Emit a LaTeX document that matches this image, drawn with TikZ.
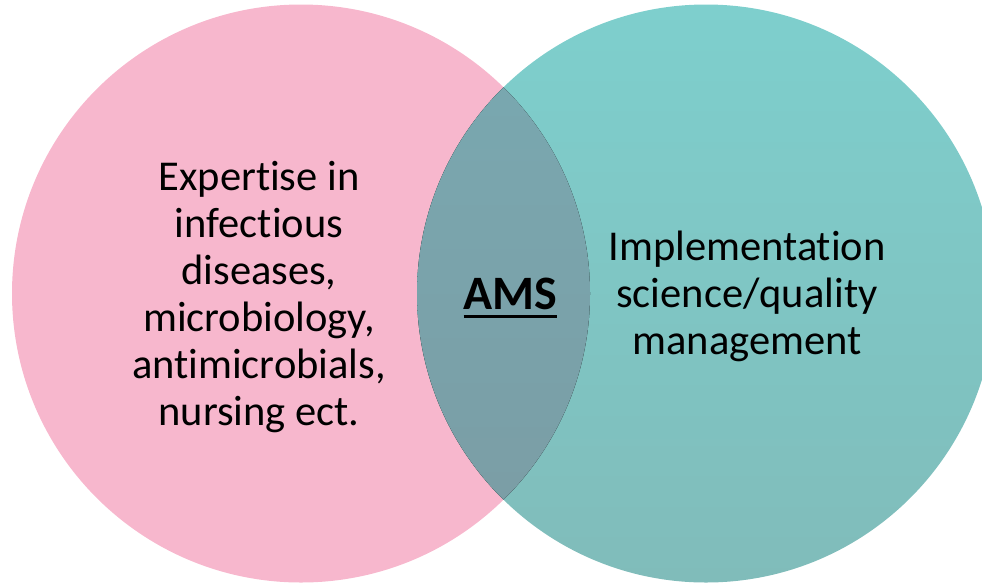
\documentclass[tikz,border=0pt]{standalone}
\usepackage{fontspec}
\setmainfont{Carlito}[Ligatures=NoCommon]
\definecolor{pinkset}{HTML}{F7B7CD}
\definecolor{tealtop}{HTML}{7ECFCD}
\definecolor{tealbot}{HTML}{80BCBA}
\definecolor{lenstop}{HTML}{79A9B1}
\definecolor{lensbot}{HTML}{7B9CA4}
% thick underline for the label of the overlap
\newcommand{\setul}[1]{\setbox0=\hbox{#1}\rlap{\vrule height -6pt depth 9pt width \wd0}\box0}
\tikzset{
  setcircle/.style={circle, minimum size=578pt, inner sep=0pt},
  setlabel/.style={align=center, text=black, inner sep=0pt, font=\fontsize{42.5}{47}\selectfont}
}
\begin{document}
\begin{tikzpicture}[x=1pt, y=-1pt]
    \useasboundingbox (0,0) rectangle (982,584);
    \clip (0,0) rectangle (982,584);

    \node[setcircle, fill=pinkset] (infect) at (301,293.5) {};
    \node[setcircle, top color=tealtop, bottom color=tealbot] (impl) at (706,293.5) {};

    % overlap of the two sets
    \begin{scope}
        \clip (infect.center) circle (289pt);
        \fill[top color=lenstop, bottom color=lensbot] (impl.center) circle (289pt);
    \end{scope}

    \node[setlabel] (expert) at (259,297) {Expertise in\\infectious\\diseases,\\microbiology,\\antimicrobials,\\nursing ect.};
    \node[setlabel] (quality) at (747,296) {Implementation\\science/quality\\management};
    \node[setlabel, anchor=base, font=\fontsize{48}{47}\selectfont\bfseries] (ams) at (510.5,309) {\setul{AMS}};
\end{tikzpicture}
\end{document}
